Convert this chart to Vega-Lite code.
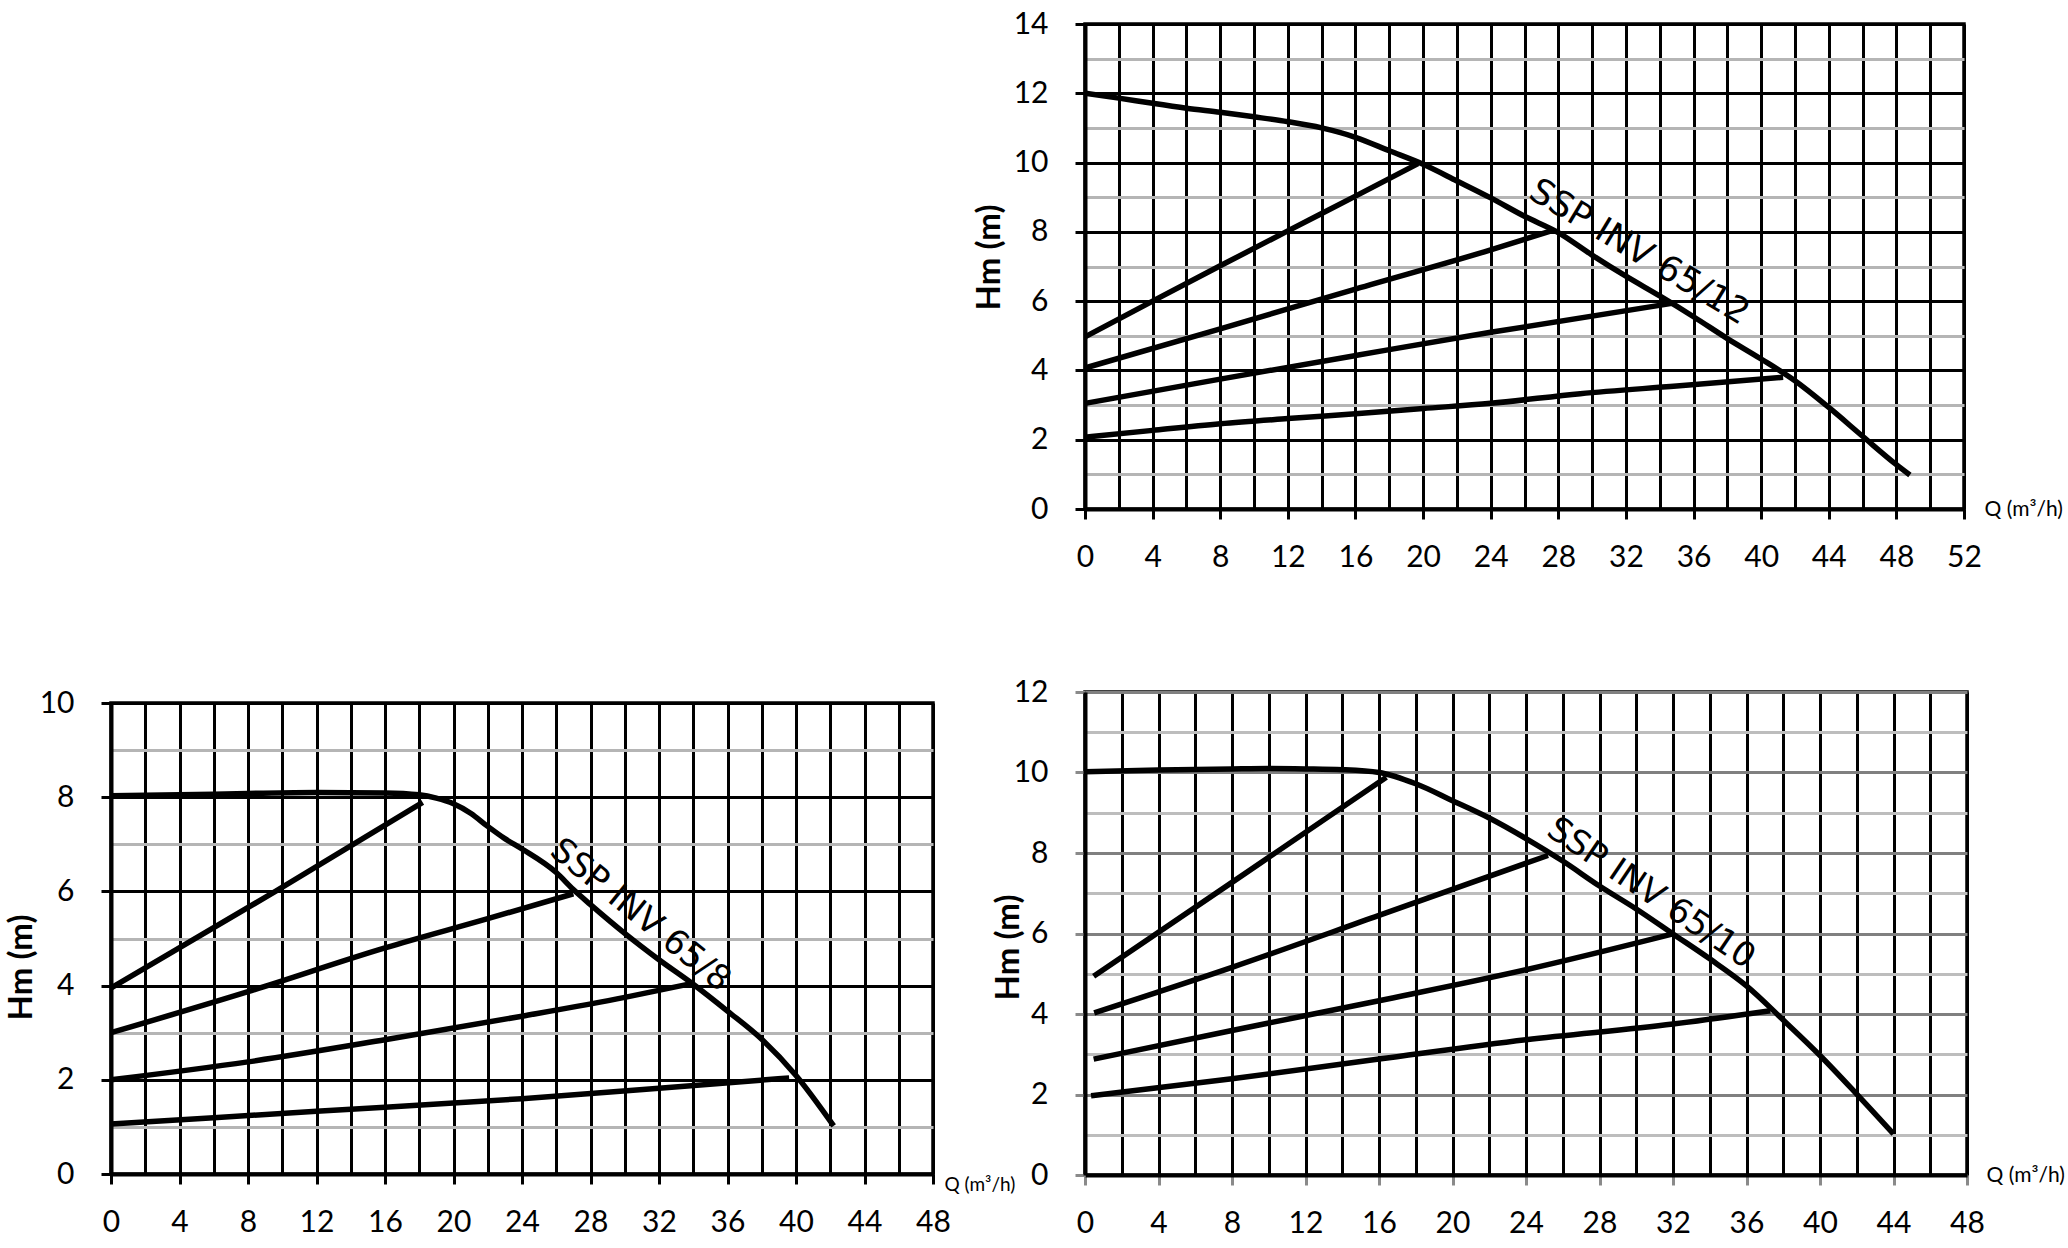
{
  "$schema": "https://vega.github.io/schema/vega-lite/v6.json",
  "background": "white",
  "padding": {"left": 3, "top": 7, "right": 0, "bottom": 0},
  "config": {
    "font": "Lato",
    "view": {"stroke": "black", "strokeWidth": 3.5},
    "axis": {
      "domainColor": "black",
      "domainWidth": 4,
      "tickColor": "black",
      "tickWidth": 3,
      "tickSize": 10,
      "labelFont": "Lato",
      "labelFontSize": 30,
      "labelColor": "black",
      "labelFlush": false,
      "labelOverlap": false,
      "titleFont": "Lato",
      "titleColor": "black",
      "grid": true,
      "gridWidth": 3
    },
    "axisX": {"labelPadding": 23, "titleFontWeight": "normal", "titleAngle": 0, "titleAlign": "left", "titleBaseline": "middle"},
    "axisY": {"labelPadding": 27, "titleFontWeight": "bold", "titleFontSize": 33, "titleAngle": 270, "titleAlign": "center", "titleBaseline": "middle"}
  },
  "datasets": {
    "p12": [
      {"s": "pump", "q": 0, "h": 12.0}, {"s": "pump", "q": 2, "h": 11.86}, {"s": "pump", "q": 4, "h": 11.71},
      {"s": "pump", "q": 6, "h": 11.57}, {"s": "pump", "q": 8, "h": 11.45}, {"s": "pump", "q": 10, "h": 11.32},
      {"s": "pump", "q": 12, "h": 11.18}, {"s": "pump", "q": 14, "h": 11.0}, {"s": "pump", "q": 16, "h": 10.73},
      {"s": "pump", "q": 18, "h": 10.34}, {"s": "pump", "q": 20, "h": 9.95}, {"s": "pump", "q": 22, "h": 9.47},
      {"s": "pump", "q": 24, "h": 8.98}, {"s": "pump", "q": 26, "h": 8.45}, {"s": "pump", "q": 28, "h": 7.98},
      {"s": "pump", "q": 30, "h": 7.33}, {"s": "pump", "q": 32, "h": 6.72}, {"s": "pump", "q": 34, "h": 6.15},
      {"s": "pump", "q": 36, "h": 5.55}, {"s": "pump", "q": 38, "h": 4.92}, {"s": "pump", "q": 40, "h": 4.33},
      {"s": "pump", "q": 42, "h": 3.7}, {"s": "pump", "q": 44, "h": 2.93}, {"s": "pump", "q": 46, "h": 2.1},
      {"s": "pump", "q": 48, "h": 1.28}, {"s": "pump", "q": 48.8, "h": 0.98},
      {"s": "r1", "q": 0, "h": 4.97}, {"s": "r1", "q": 4, "h": 6.0}, {"s": "r1", "q": 8, "h": 7.02},
      {"s": "r1", "q": 12, "h": 8.03}, {"s": "r1", "q": 16, "h": 9.03}, {"s": "r1", "q": 19.7, "h": 9.97},
      {"s": "r2", "q": 0, "h": 4.07}, {"s": "r2", "q": 8, "h": 5.2}, {"s": "r2", "q": 16, "h": 6.35},
      {"s": "r2", "q": 24, "h": 7.48}, {"s": "r2", "q": 27.6, "h": 8.03},
      {"s": "r3", "q": 0, "h": 3.05}, {"s": "r3", "q": 8, "h": 3.75}, {"s": "r3", "q": 16, "h": 4.43},
      {"s": "r3", "q": 24, "h": 5.1}, {"s": "r3", "q": 34.9, "h": 5.95},
      {"s": "r4", "q": 0, "h": 2.07}, {"s": "r4", "q": 4, "h": 2.27}, {"s": "r4", "q": 8, "h": 2.46},
      {"s": "r4", "q": 12, "h": 2.61}, {"s": "r4", "q": 16, "h": 2.75}, {"s": "r4", "q": 20, "h": 2.9},
      {"s": "r4", "q": 24, "h": 3.05}, {"s": "r4", "q": 29.3, "h": 3.33}, {"s": "r4", "q": 35, "h": 3.55},
      {"s": "r4", "q": 41.3, "h": 3.8}
    ],
    "p8": [
      {"s": "pump", "q": 0, "h": 8.03}, {"s": "pump", "q": 4, "h": 8.05}, {"s": "pump", "q": 8, "h": 8.08},
      {"s": "pump", "q": 12, "h": 8.1}, {"s": "pump", "q": 16, "h": 8.09}, {"s": "pump", "q": 18, "h": 8.05},
      {"s": "pump", "q": 19, "h": 7.98}, {"s": "pump", "q": 20, "h": 7.86}, {"s": "pump", "q": 21, "h": 7.66},
      {"s": "pump", "q": 22, "h": 7.38}, {"s": "pump", "q": 23, "h": 7.12}, {"s": "pump", "q": 24, "h": 6.9},
      {"s": "pump", "q": 26, "h": 6.4}, {"s": "pump", "q": 27, "h": 6.04}, {"s": "pump", "q": 28, "h": 5.72},
      {"s": "pump", "q": 30, "h": 5.11}, {"s": "pump", "q": 32, "h": 4.55}, {"s": "pump", "q": 34, "h": 4.03},
      {"s": "pump", "q": 36, "h": 3.46}, {"s": "pump", "q": 38, "h": 2.86}, {"s": "pump", "q": 40, "h": 2.09},
      {"s": "pump", "q": 42.2, "h": 1.02},
      {"s": "r1", "q": 0, "h": 3.95}, {"s": "r1", "q": 9.6, "h": 6.0}, {"s": "r1", "q": 18.2, "h": 7.89},
      {"s": "r2", "q": 0, "h": 3.0}, {"s": "r2", "q": 8, "h": 3.87}, {"s": "r2", "q": 16, "h": 4.8},
      {"s": "r2", "q": 22, "h": 5.42}, {"s": "r2", "q": 27, "h": 5.95},
      {"s": "r3", "q": 0, "h": 2.0}, {"s": "r3", "q": 8, "h": 2.38}, {"s": "r3", "q": 16, "h": 2.85},
      {"s": "r3", "q": 24, "h": 3.35}, {"s": "r3", "q": 30, "h": 3.75}, {"s": "r3", "q": 34, "h": 4.05},
      {"s": "r4", "q": 0, "h": 1.06}, {"s": "r4", "q": 12, "h": 1.33}, {"s": "r4", "q": 24, "h": 1.6},
      {"s": "r4", "q": 32, "h": 1.82}, {"s": "r4", "q": 39.6, "h": 2.04}
    ],
    "p10": [
      {"s": "pump", "q": 0, "h": 10.02}, {"s": "pump", "q": 4, "h": 10.06}, {"s": "pump", "q": 8, "h": 10.09},
      {"s": "pump", "q": 10, "h": 10.1}, {"s": "pump", "q": 12, "h": 10.09}, {"s": "pump", "q": 14, "h": 10.07},
      {"s": "pump", "q": 16, "h": 10.0}, {"s": "pump", "q": 18, "h": 9.72}, {"s": "pump", "q": 20, "h": 9.3},
      {"s": "pump", "q": 22, "h": 8.87}, {"s": "pump", "q": 24, "h": 8.36}, {"s": "pump", "q": 26, "h": 7.8},
      {"s": "pump", "q": 28, "h": 7.18}, {"s": "pump", "q": 30, "h": 6.61}, {"s": "pump", "q": 32, "h": 5.99},
      {"s": "pump", "q": 34, "h": 5.37}, {"s": "pump", "q": 36, "h": 4.7}, {"s": "pump", "q": 38, "h": 3.85},
      {"s": "pump", "q": 40, "h": 2.97}, {"s": "pump", "q": 42, "h": 2.01}, {"s": "pump", "q": 44, "h": 1.02},
      {"s": "r1", "q": 0.47, "h": 4.94}, {"s": "r1", "q": 8, "h": 7.27}, {"s": "r1", "q": 16.4, "h": 9.88},
      {"s": "r2", "q": 0.5, "h": 4.03}, {"s": "r2", "q": 8, "h": 5.16}, {"s": "r2", "q": 16, "h": 6.45},
      {"s": "r2", "q": 25.2, "h": 7.94},
      {"s": "r3", "q": 0.47, "h": 2.88}, {"s": "r3", "q": 8, "h": 3.59}, {"s": "r3", "q": 16, "h": 4.33},
      {"s": "r3", "q": 24, "h": 5.1}, {"s": "r3", "q": 32, "h": 5.99},
      {"s": "r4", "q": 0.33, "h": 1.97}, {"s": "r4", "q": 8, "h": 2.39}, {"s": "r4", "q": 16, "h": 2.88},
      {"s": "r4", "q": 24, "h": 3.36}, {"s": "r4", "q": 32, "h": 3.75}, {"s": "r4", "q": 37.3, "h": 4.08}
    ],
    "lab12": [{"q": 32.8, "h": 7.42, "t": "SSP INV 65/12"}],
    "lab8": [{"q": 30.9, "h": 5.49, "t": "SSP INV 65/8"}],
    "lab10": [{"q": 30.8, "h": 6.99, "t": "SSP INV 65/10"}]
  },
  "bounds": "flush",
  "spacing": 974,
  "hconcat": [
    {
      "bounds": "flush",
      "spacing": 194,
      "vconcat": [
        {
          "data": {"values": []},
          "mark": "point",
          "width": 822,
          "height": 485,
          "view": {"stroke": null}
        },
        {
          "width": 822,
          "height": 471,
          "encoding": {
            "x": {
              "field": "q", "type": "quantitative",
              "scale": {"domain": [0, 48], "nice": false},
              "axis": {
                "values": [0,2,4,6,8,10,12,14,16,18,20,22,24,26,28,30,32,34,36,38,40,42,44,46,48],
                "labelExpr": "datum.value % 4 === 0 ? datum.label : ''",
                "tickOpacity": {"condition": {"test": "datum.value % 4 !== 0", "value": 0}, "value": 1},
                "gridColor": "black",
                "title": "Q (m³/h)", "titleFontSize": 19, "titleX": 833, "titleY": 10
              }
            },
            "y": {
              "field": "h", "type": "quantitative",
              "scale": {"domain": [0, 10], "nice": false},
              "axis": {
                "values": [0,1,2,3,4,5,6,7,8,9,10],
                "labelExpr": "datum.value % 2 === 0 ? datum.label : ''",
                "tickOpacity": {"condition": {"test": "datum.value % 2 !== 0", "value": 0}, "value": 1},
                "gridColor": {"condition": {"test": "datum.value % 2 === 0", "value": "black"}, "value": "#b5b5b5"},
                "title": "Hm (m)", "titleX": -90, "titleY": 264
              }
            }
          },
          "layer": [
            {
              "data": {"name": "p8"},
              "mark": {"type": "line", "interpolate": "monotone", "color": "black", "strokeWidth": 5.5},
              "encoding": {"detail": {"field": "s"}}
            },
            {
              "data": {"name": "lab8"},
              "mark": {"type": "text", "font": "DejaVu Sans", "fontSize": 34, "angle": 39, "align": "center", "baseline": "middle", "color": "black"},
              "encoding": {"text": {"field": "t"}}
            }
          ]
        }
      ]
    },
    {
      "bounds": "flush",
      "spacing": 183,
      "vconcat": [
        {
          "width": 879,
          "height": 485,
          "encoding": {
            "x": {
              "field": "q", "type": "quantitative",
              "scale": {"domain": [0, 52], "nice": false},
              "axis": {
                "values": [0,2,4,6,8,10,12,14,16,18,20,22,24,26,28,30,32,34,36,38,40,42,44,46,48,50,52],
                "labelExpr": "datum.value % 4 === 0 ? datum.label : ''",
                "tickOpacity": {"condition": {"test": "datum.value % 4 !== 0", "value": 0}, "value": 1},
                "gridColor": "black",
                "title": "Q (m³/h)", "titleFontSize": 21, "titleX": 899, "titleY": 0
              }
            },
            "y": {
              "field": "h", "type": "quantitative",
              "scale": {"domain": [0, 14], "nice": false},
              "axis": {
                "values": [0,1,2,3,4,5,6,7,8,9,10,11,12,13,14],
                "labelExpr": "datum.value % 2 === 0 ? datum.label : ''",
                "tickOpacity": {"condition": {"test": "datum.value % 2 !== 0", "value": 0}, "value": 1},
                "gridColor": {"condition": {"test": "datum.value % 2 === 0", "value": "black"}, "value": "#b5b5b5"},
                "title": "Hm (m)", "titleX": -96, "titleY": 233
              }
            }
          },
          "layer": [
            {
              "data": {"name": "p12"},
              "mark": {"type": "line", "interpolate": "monotone", "color": "black", "strokeWidth": 5.5},
              "encoding": {"detail": {"field": "s"}}
            },
            {
              "data": {"name": "lab12"},
              "mark": {"type": "text", "font": "DejaVu Sans", "fontSize": 35, "angle": 31, "align": "center", "baseline": "middle", "color": "black"},
              "encoding": {"text": {"field": "t"}}
            }
          ]
        },
        {
          "width": 882,
          "height": 483,
          "encoding": {
            "x": {
              "field": "q", "type": "quantitative",
              "scale": {"domain": [0, 48], "nice": false},
              "axis": {
                "values": [0,2,4,6,8,10,12,14,16,18,20,22,24,26,28,30,32,34,36,38,40,42,44,46,48],
                "labelExpr": "datum.value % 4 === 0 ? datum.label : ''",
                "tickOpacity": {"condition": {"test": "datum.value % 4 !== 0", "value": 0}, "value": 1},
                "tickColor": "#8a8a8a",
                "gridColor": "black",
                "title": "Q (m³/h)", "titleFontSize": 21, "titleX": 901, "titleY": 0
              }
            },
            "y": {
              "field": "h", "type": "quantitative",
              "scale": {"domain": [0, 12], "nice": false},
              "axis": {
                "values": [0,1,2,3,4,5,6,7,8,9,10,11,12],
                "labelExpr": "datum.value % 2 === 0 ? datum.label : ''",
                "tickOpacity": {"condition": {"test": "datum.value % 2 !== 0", "value": 0}, "value": 1},
                "tickColor": "#8a8a8a",
                "gridColor": {"condition": {"test": "datum.value % 2 === 0", "value": "#808080"}, "value": "#bdbdbd"},
                "title": "Hm (m)", "titleX": -77, "titleY": 255
              }
            }
          },
          "layer": [
            {
              "data": {"name": "p10"},
              "mark": {"type": "line", "interpolate": "monotone", "color": "black", "strokeWidth": 5.5},
              "encoding": {"detail": {"field": "s"}}
            },
            {
              "data": {"name": "lab10"},
              "mark": {"type": "text", "font": "DejaVu Sans", "fontSize": 34, "angle": 34, "align": "center", "baseline": "middle", "color": "black"},
              "encoding": {"text": {"field": "t"}}
            }
          ]
        }
      ]
    }
  ]
}
